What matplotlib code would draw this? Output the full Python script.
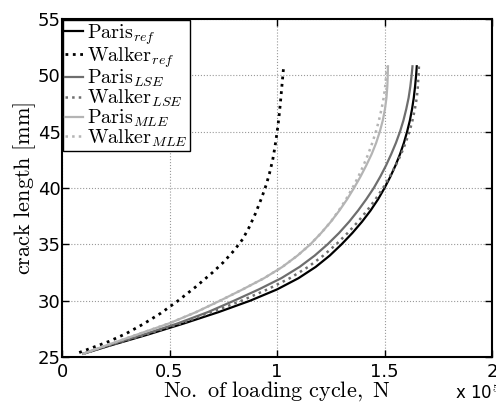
import matplotlib
matplotlib.use('Agg')
import matplotlib.pyplot as plt
import numpy as np

    #values, x in units of 1e5 cycles, y in mm
crack_y = [25.3, 26, 27, 28, 29, 30, 31, 32, 33, 34, 35, 36, 37, 38, 39, 40,
           41, 42, 43, 44, 45, 46, 47, 48, 49, 50, 50.8]

paris_ref_x = [0.10, 0.22, 0.40, 0.57, 0.73, 0.875, 1.00, 1.10, 1.18, 1.245, 1.30, 1.35, 1.395, 1.435,
               1.47, 1.50, 1.527, 1.551, 1.572, 1.59, 1.605, 1.618, 1.628, 1.636, 1.642, 1.647, 1.65]
paris_lse_x = [0.10, 0.21, 0.38, 0.54, 0.68, 0.80, 0.915, 1.02, 1.105, 1.175, 1.235, 1.288, 1.335, 1.377,
               1.415, 1.45, 1.48, 1.507, 1.531, 1.553, 1.572, 1.588, 1.601, 1.612, 1.62, 1.626, 1.63]
walker_lse_x = [0.10, 0.215, 0.39, 0.555, 0.70, 0.835, 0.955, 1.06, 1.145, 1.215, 1.275, 1.328, 1.376, 1.419,
                1.458, 1.493, 1.524, 1.552, 1.577, 1.598, 1.616, 1.63, 1.641, 1.65, 1.655, 1.658, 1.66]
paris_mle_x = [0.10, 0.20, 0.35, 0.50, 0.625, 0.735, 0.84, 0.94, 1.025, 1.095, 1.155, 1.205, 1.25, 1.29,
               1.326, 1.358, 1.388, 1.415, 1.44, 1.461, 1.478, 1.492, 1.502, 1.509, 1.513, 1.515, 1.516]
walker_mle_x = [0.10, 0.20, 0.35, 0.50, 0.625, 0.735, 0.84, 0.94, 1.025, 1.095, 1.155, 1.205, 1.25, 1.287,
                1.321, 1.351, 1.378, 1.402, 1.424, 1.443, 1.46, 1.474, 1.486, 1.496, 1.503, 1.508, 1.51]

walker_ref_x = [0.08, 0.15, 0.22, 0.30, 0.38, 0.46, 0.54, 0.62, 0.70, 0.75, 0.80, 0.84, 0.87, 0.90,
                0.93, 0.95, 0.965, 0.98, 0.99, 1.00, 1.008, 1.015, 1.022, 1.03]
walker_ref_y = [25.4, 25.9, 26.4, 27.1, 27.95, 28.9, 30.0, 31.2, 32.5, 33.4, 34.45, 35.45, 36.5, 37.75,
                39.2, 40.3, 41.3, 42.5, 43.6, 44.9, 46.1, 47.4, 48.9, 50.6]

x_ticks = [0, 0.5, 1, 1.5, 2]
x_tick_labels = ['0', '0.5', '1', '1.5', '2']
y_ticks = [25, 30, 35, 40, 45, 50, 55]

plt.rcParams['mathtext.fontset'] = 'cm'
plt.rcParams['font.family'] = 'DejaVu Sans'

fig = plt.figure(figsize=(4.96, 4.03), dpi=100)
ax = fig.add_axes([0.125, 0.114, 0.867, 0.839])

light = '#b4b4b4'
dark = '#6e6e6e'

ax.plot(paris_ref_x, crack_y, '-', color='black', lw=1.6, label=r'$\mathrm{Paris}_{ref}$')
ax.plot(walker_ref_x, walker_ref_y, ':', color='black', lw=2.0, label=r'$\mathrm{Walker}_{ref}$')
ax.plot(paris_lse_x, crack_y, '-', color=dark, lw=1.6, label=r'$\mathrm{Paris}_{LSE}$')
ax.plot(walker_lse_x, crack_y, ':', color=dark, lw=1.8, label=r'$\mathrm{Walker}_{LSE}$')
ax.plot(paris_mle_x, crack_y, '-', color=light, lw=1.6, label=r'$\mathrm{Paris}_{MLE}$')
ax.plot(walker_mle_x, crack_y, ':', color=light, lw=1.8, label=r'$\mathrm{Walker}_{MLE}$')

ax.set_xlim(0, 2)
ax.set_ylim(25, 55)
ax.set_xticks(x_ticks)
ax.set_xticklabels(x_tick_labels)
ax.set_yticks(y_ticks)
ax.tick_params(direction='in', top=True, right=True, length=5, width=1, labelsize=13)
ax.tick_params(axis='y', pad=1)
ax.tick_params(axis='x', pad=4)
ax.grid(True, linestyle=':', color='#999999', lw=0.8)
for s in ax.spines.values():
    s.set_linewidth(1.5)

ax.set_xlabel(r'$\mathrm{No.\ of\ loading\ cycle,\ N}$', fontsize=16, labelpad=-1)
ax.set_ylabel(r'$\mathrm{crack\ length\ [mm]}$', fontsize=16, labelpad=0)

    #scale factor of the x axis, drawn like the matlab one
fig.text(0.918, 0.0, r'x 10$^{\mathrm{5}}$', fontsize=12, ha='left', va='bottom')

leg = ax.legend(loc='upper left', fontsize=14.5, borderaxespad=0.05, handlelength=0.9,
                handletextpad=0.2, borderpad=0.1, labelspacing=-0.08, fancybox=False,
                framealpha=1, edgecolor='black')
leg.get_frame().set_linewidth(1.0)

plt.savefig('out.png', dpi=100)
